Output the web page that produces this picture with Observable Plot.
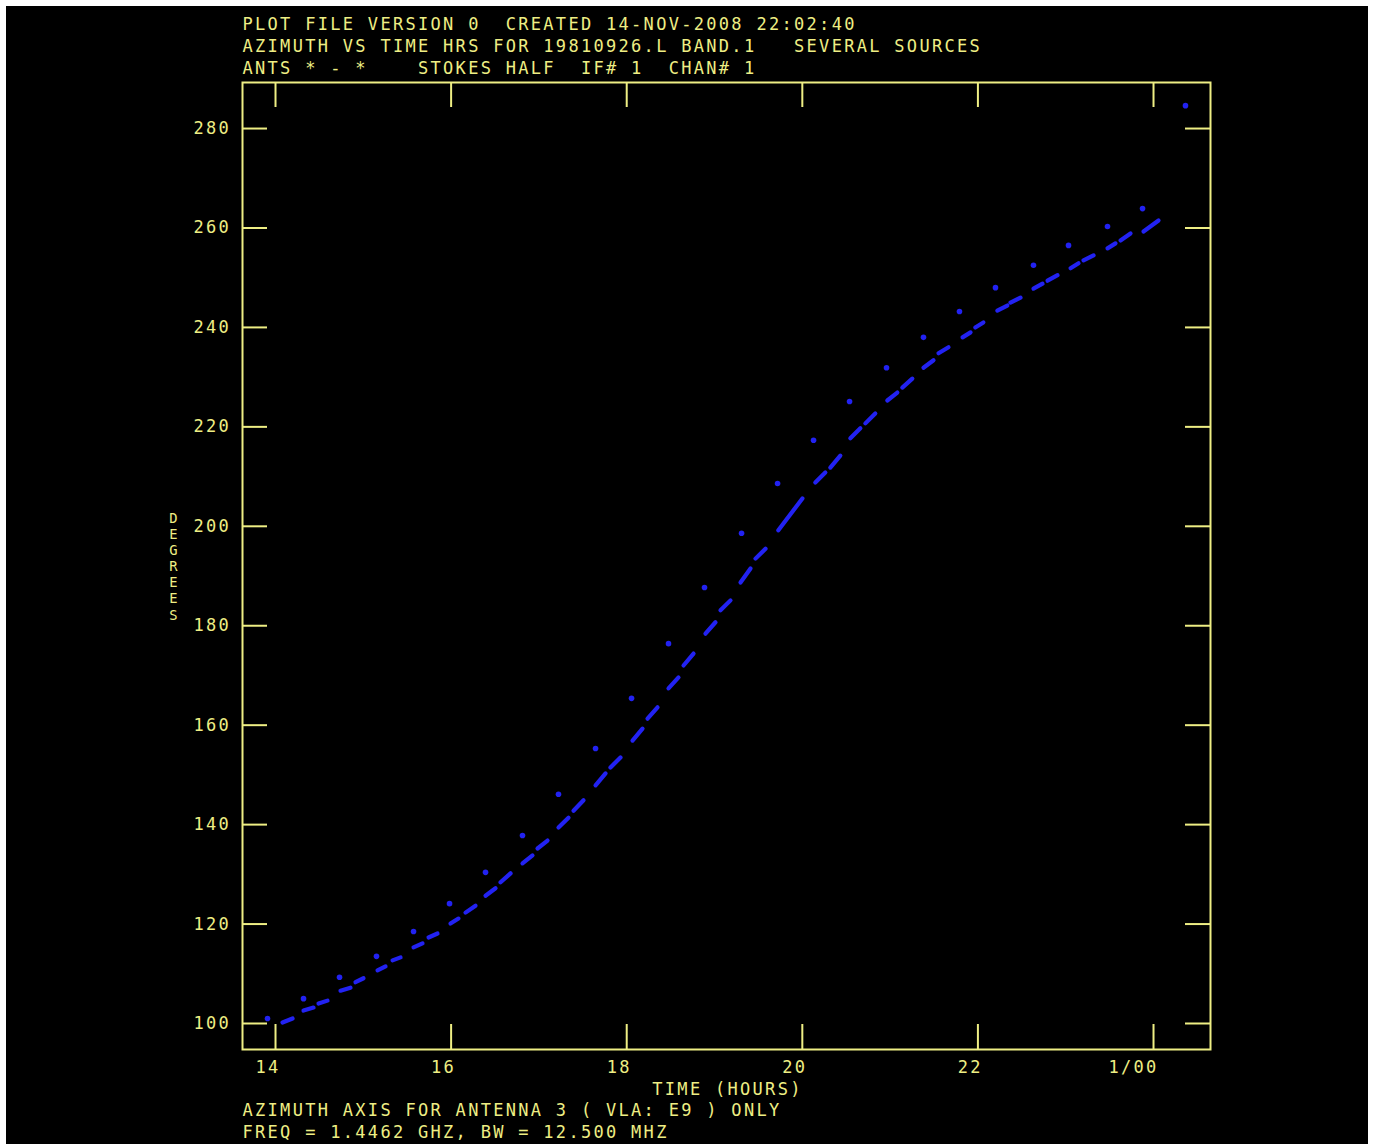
<!DOCTYPE html>
<html><head><meta charset="utf-8">
<script src="https://cdn.jsdelivr.net/npm/d3@7"></script>
<script src="https://cdn.jsdelivr.net/npm/@observablehq/plot@0.6"></script>
<style>
html,body{margin:0;padding:0;background:#fff;}
#chart{position:absolute;left:6px;top:6px;width:1362px;height:1138px;background:#000;overflow:hidden;}
#chart svg text{white-space:pre;letter-spacing:2.3px;}
</style></head><body><div id="chart"></div>
<script>
// ---- text ----
const headerLines = [
  "PLOT FILE VERSION 0  CREATED 14-NOV-2008 22:02:40",
  "AZIMUTH VS TIME HRS FOR 19810926.L BAND.1   SEVERAL SOURCES",
  "ANTS * - *    STOKES HALF  IF# 1  CHAN# 1"
];
const footerLines = [
  "AZIMUTH AXIS FOR ANTENNA 3 ( VLA: E9 ) ONLY",
  "FREQ = 1.4462 GHZ, BW = 12.500 MHZ"
];
const xTitle = "TIME (HOURS)";
const yTitle = "DEGREES";

// ---- ticks ----
const xTicks = [14, 16, 18, 20, 22, 24];
const xTickLabels = ["14", "16", "18", "20", "22", "1/00"];
const yTicks = [100, 120, 140, 160, 180, 200, 220, 240, 260, 280];
const yTickLabels = ["100", "120", "140", "160", "180", "200", "220", "240", "260", "280"];
const xDomain = [13.624, 24.649];
const yDomain = [94.77, 289.26];

// ---- series 1: sparse points (time hrs, azimuth deg) ----
const dotTime = [13.909,14.319,14.729,15.150,15.572,15.982,16.392,16.813,17.223,17.645,18.055,18.476,18.886,19.308,19.718,20.128,20.538,20.959,21.380,21.790,22.200,22.633,23.032,23.476,23.875,24.364];
const dotAz   = [101.0,105.0,109.3,113.5,118.5,124.1,130.4,137.8,146.1,155.3,165.4,176.4,187.7,198.6,208.6,217.3,225.1,231.9,238.0,243.2,248.0,252.5,256.5,260.3,263.9,284.6];

// ---- series 2: dense samples drawn as short runs (start/end time, start/end azimuth) ----
const runT0  = [14.080,14.319,14.490,14.740,14.911,15.162,15.333,15.572,15.743,15.993,16.164,16.392,16.563,16.813,16.984,17.223,17.394,17.645,17.815,18.066,18.237,18.476,18.647,18.897,19.068,19.296,19.467,19.727,20.148,20.319,20.547,20.718,20.968,21.139,21.380,21.551,21.825,21.970,22.221,22.371,22.633,22.793,23.055,23.203,23.476,23.624,23.886];
const runT1  = [14.194,14.433,14.592,14.854,15.002,15.253,15.424,15.674,15.845,16.084,16.278,16.506,16.677,16.927,17.098,17.337,17.508,17.759,17.929,18.180,18.351,18.590,18.761,19.011,19.182,19.410,19.581,20.001,20.262,20.433,20.661,20.831,21.082,21.253,21.494,21.665,21.916,22.062,22.335,22.485,22.736,22.907,23.146,23.317,23.567,23.738,24.057];
const runAz0 = [100.2,102.6,104.0,106.6,108.3,110.7,112.7,115.3,117.3,120.1,122.3,125.7,128.4,132.2,135.2,139.4,142.8,147.9,151.5,156.9,161.3,167.4,172.0,178.4,183.1,188.7,193.5,199.2,208.8,211.8,217.7,220.7,225.3,227.9,231.9,234.8,238.0,240.0,243.4,245.0,247.8,249.4,251.9,253.5,255.9,257.5,259.3];
const runAz1 = [101.0,103.2,104.6,107.2,109.1,111.5,113.3,116.1,118.1,121.1,123.7,127.2,130.2,133.8,136.8,141.4,144.9,150.3,153.5,159.3,163.6,169.6,174.4,180.7,185.1,191.5,195.5,205.6,210.8,214.2,219.7,222.7,226.9,229.7,233.4,236.0,239.0,241.0,244.4,246.0,248.8,250.5,252.9,254.5,256.9,258.9,261.5];

const yellow = "#eeee84";
const blue = "#2222f2";
const font = "DejaVu Sans Mono";
const fs = 17;

const dots = dotTime.map((t, i) => ({t, az: dotAz[i]}));
const nRuns = Math.min(runT0.length, runT1.length, runAz0.length, runAz1.length);
const runs = d3.range(nRuns).map(i => ({t0: runT0[i], t1: runT1[i], a0: runAz0[i], a1: runAz1[i]}));

const W = 1362, H = 1138, mL = 236, mR = 158, mT = 76, mB = 95;
const frameW = W - mL - mR, frameH = H - mT - mB, tickLen = 25;

const txt = {fill: yellow, fontSize: fs, lineAnchor: "middle"};
const headerDy = [-58, -36, -14];
const footerDy = [61, 83];

const chart = Plot.plot({
  width: W, height: H,
  marginLeft: mL, marginRight: mR, marginTop: mT, marginBottom: mB,
  x: {domain: xDomain, axis: null},
  y: {domain: yDomain, axis: null},
  style: {background: "#000", fontFamily: font, color: yellow},
  marks: [
    Plot.link(runs, {x1: "t0", y1: "a0", x2: "t1", y2: "a1", stroke: blue, strokeWidth: 4.2, strokeLinecap: "round"}),
    Plot.dot(dots, {x: "t", y: "az", r: 2.8, fill: blue, stroke: "none"}),
    Plot.frame({stroke: yellow, strokeWidth: 2}),
    Plot.tickX(xTicks, {x: d => d, stroke: yellow, strokeWidth: 2, insetBottom: frameH - tickLen}),
    Plot.tickX(xTicks, {x: d => d, stroke: yellow, strokeWidth: 2, insetTop: frameH - tickLen}),
    Plot.tickY(yTicks, {y: d => d, stroke: yellow, strokeWidth: 2, insetRight: frameW - tickLen}),
    Plot.tickY(yTicks, {y: d => d, stroke: yellow, strokeWidth: 2, insetLeft: frameW - tickLen}),
    Plot.text(xTicks, {...txt, x: d => d, text: (d, i) => xTickLabels[i], frameAnchor: "bottom", dy: 18, dx: 5, textAnchor: "end"}),
    Plot.text(yTicks, {...txt, y: d => d, text: (d, i) => yTickLabels[i], frameAnchor: "left", dx: -11.5, textAnchor: "end"}),
    Plot.text([yTitle.split("").join("\n")], {...txt, fontSize: 13.8, frameAnchor: "left", dx: -68, textAnchor: "middle", lineHeight: 1.17}),
    Plot.text([xTitle], {...txt, frameAnchor: "bottom", dy: 40, dx: 1, textAnchor: "middle"}),
    ...headerLines.map((line, i) => Plot.text([line], {...txt, frameAnchor: "top-left", dy: headerDy[i], textAnchor: "start"})),
    ...footerLines.map((line, i) => Plot.text([line], {...txt, frameAnchor: "bottom-left", dy: footerDy[i], textAnchor: "start"}))
  ]
});
document.getElementById("chart").appendChild(chart);
</script></body></html>
